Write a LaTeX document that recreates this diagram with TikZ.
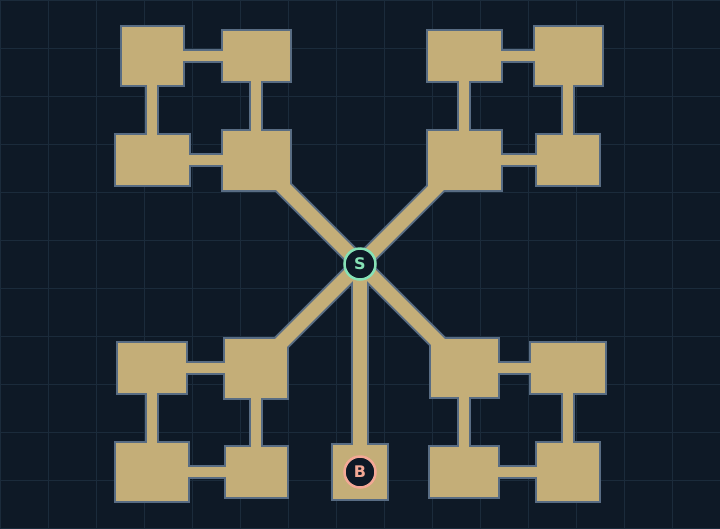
\documentclass[tikz,border=0pt]{standalone}
\usepackage{fontspec}
\setmainfont{DejaVu Sans}
\definecolor{bgc}{HTML}{0E1926}
\definecolor{gridc}{HTML}{1B2B3B}
\definecolor{floorc}{HTML}{C4AE78}
\definecolor{wallc}{HTML}{586C83}
\definecolor{mintc}{HTML}{86E2B6}
\definecolor{salmonc}{HTML}{F3A895}
\pgfdeclarelayer{back}
\pgfdeclarelayer{corr}
\pgfdeclarelayer{top}
\pgfsetlayers{back,main,corr,top}
\begin{document}
\begin{tikzpicture}[x=1pt,y=-1pt,
  room/.style={rectangle, draw=wallc, line width=2pt, fill=floorc, inner sep=0pt},
  corrwall/.style={draw=wallc, line width=14.5pt},
  corrfloor/.style={draw=floorc, line width=10.5pt},
  hallwall/.style={draw=wallc, line width=18pt},
  hallfloor/.style={draw=floorc, line width=14pt},
  marker/.style={circle, fill=bgc, line width=2.5pt, inner sep=0pt, minimum size=31pt,
    font=\fontsize{16}{16}\selectfont\bfseries}]
\useasboundingbox (0,0) rectangle (720,528);
\begin{pgfonlayer}{back}
\fill[bgc] (0,0) rectangle (720,528);
\foreach \i in {0,48,...,720} \draw[gridc, line width=1pt] (\i,0) -- (\i,528);
\foreach \j in {0,48,...,528} \draw[gridc, line width=1pt] (0,\j) -- (720,\j);
\end{pgfonlayer}
% rooms
\node[room, minimum width=63pt, minimum height=60pt] (A) at (152,56) {};
\node[room, minimum width=69pt, minimum height=52pt] (Bq) at (256,56) {};
\node[room, minimum width=75pt, minimum height=52pt] (C) at (152,160) {};
\node[room, minimum width=69pt, minimum height=61pt] (D) at (256,160) {};
\node[room, minimum width=75pt, minimum height=52pt] (E) at (464,56) {};
\node[room, minimum width=69pt, minimum height=60pt] (F) at (568,56) {};
\node[room, minimum width=75pt, minimum height=61pt] (G) at (464,160) {};
\node[room, minimum width=64pt, minimum height=52pt] (H) at (568,160) {};
\node[room, minimum width=70pt, minimum height=52pt] (I) at (152,368) {};
\node[room, minimum width=64pt, minimum height=61pt] (J) at (256,368) {};
\node[room, minimum width=74pt, minimum height=60pt] (K) at (152,472) {};
\node[room, minimum width=63pt, minimum height=52pt] (L) at (256,472) {};
\node[room, minimum width=69pt, minimum height=60pt] (M) at (464,368) {};
\node[room, minimum width=76pt, minimum height=52pt] (N) at (568,368) {};
\node[room, minimum width=70pt, minimum height=52pt] (O) at (464,472) {};
\node[room, minimum width=64pt, minimum height=60pt] (P) at (568,472) {};
\node[room, minimum width=56pt, minimum height=56pt] (Broom) at (360,472) {};
% markers
\begin{pgfonlayer}{top}
\node[marker, draw=mintc, text=mintc] (S) at (360,264) {S};
\node[marker, draw=salmonc, text=salmonc] (Bm) at (360,472) {B};
\end{pgfonlayer}
% corridors inside clusters
\foreach \a/\b in {A/Bq,A/C,Bq/D,C/D,E/F,E/G,F/H,G/H,I/J,I/K,J/L,K/L,M/N,M/O,N/P,O/P}{
  \begin{pgfonlayer}{back}
  \draw[corrwall] (\a.center) -- (\b.center);
  \end{pgfonlayer}
  \begin{pgfonlayer}{corr}
  \draw[corrfloor] (\a.center) -- (\b.center);
  \end{pgfonlayer}
}
% halls from the start
\foreach \b in {D,G,J,M,Broom}{
  \begin{pgfonlayer}{back}
  \draw[hallwall] (S.center) -- (\b.center);
  \end{pgfonlayer}
  \begin{pgfonlayer}{corr}
  \draw[hallfloor] (S.center) -- (\b.center);
  \end{pgfonlayer}
}
\end{tikzpicture}
\end{document}
